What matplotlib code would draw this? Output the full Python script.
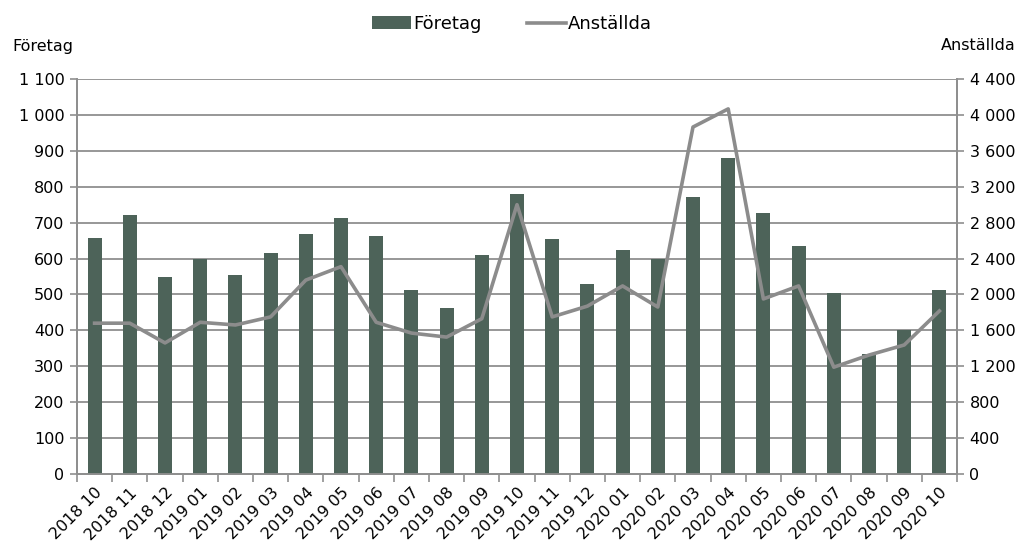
import matplotlib
matplotlib.use("Agg")
import matplotlib.pyplot as plt
import numpy as np
from matplotlib.ticker import FuncFormatter, MultipleLocator, FixedLocator

months = ["2018 10", "2018 11", "2018 12", "2019 01", "2019 02", "2019 03", "2019 04",
          "2019 05", "2019 06", "2019 07", "2019 08", "2019 09", "2019 10", "2019 11",
          "2019 12", "2020 01", "2020 02", "2020 03", "2020 04", "2020 05", "2020 06",
          "2020 07", "2020 08", "2020 09", "2020 10"]
foretag = [658, 720, 550, 600, 553, 615, 667, 712, 664, 513, 462, 610, 780, 655,
           530, 625, 600, 772, 880, 727, 635, 505, 333, 400, 513]
anstallda = [1680, 1680, 1460, 1690, 1660, 1750, 2160, 2310, 1690, 1570, 1525, 1730,
             3000, 1750, 1870, 2095, 1860, 3865, 4067, 1950, 2095, 1190, 1325, 1437, 1816]

plt.rcParams['font.family'] = ['DejaVu Sans']
fig = plt.figure(figsize=(10.24, 5.48), dpi=100)
ax = fig.add_axes([77/1024, 74/548, 880/1024, 395/548])
ax2 = ax.twinx()

bar_c = "#4d6359"
line_c = "#8c8c8c"
grid_c = "#8f8f8f"

x = np.arange(len(months))
b = ax.bar(x, foretag, width=0.4, color=bar_c, zorder=3, label="Företag")
l, = ax2.plot(x, anstallda, color=line_c, lw=2.6, zorder=4, label="Anställda")

ax.set_xlim(-0.5, len(months) - 0.5)
ax.set_ylim(0, 1100)
ax2.set_ylim(0, 4400)
ax.yaxis.set_major_locator(MultipleLocator(100))
ax2.yaxis.set_major_locator(MultipleLocator(400))
fmt = FuncFormatter(lambda v, p: f"{int(v):,}".replace(",", " "))
ax.yaxis.set_major_formatter(fmt)
ax2.yaxis.set_major_formatter(fmt)

ax.grid(axis='y', color=grid_c, lw=1.3, zorder=0)
ax.set_axisbelow(True)

ax.set_xticks(x)
ax.set_xticklabels(months, rotation=45, ha='right', rotation_mode='anchor', fontsize=11.5)
ax.tick_params(axis='x', which='major', length=0, pad=8)
ax.xaxis.set_minor_locator(FixedLocator(np.arange(-0.5, len(months), 1.0)))
ax.tick_params(axis='x', which='minor', length=6, color=grid_c, width=1.2)
ax.tick_params(axis='y', length=5, color=grid_c, width=1.2, labelsize=11.5, pad=4)
ax2.tick_params(axis='y', length=5, color=grid_c, width=1.2, labelsize=11.5, pad=4)

for a in (ax, ax2):
    a.spines['top'].set_visible(False)
    for s in ('left', 'right', 'bottom'):
        a.spines[s].set_color(grid_c)
        a.spines[s].set_linewidth(1.3)

fig.text(12/1024, 1 - 46/548, "Företag", fontsize=11.5, va='center', ha='left')
fig.text(1016/1024, 1 - 46/548, "Anställda", fontsize=11.5, va='center', ha='right')

fig.legend(handles=[b, l], labels=["Företag", "Anställda"], loc='center',
           bbox_to_anchor=(512/1024, 1 - 24/548), ncol=2, frameon=False,
           fontsize=13, handlelength=2.2, handletextpad=0.1, columnspacing=2.5)

fig.savefig("out.png", dpi=100)
